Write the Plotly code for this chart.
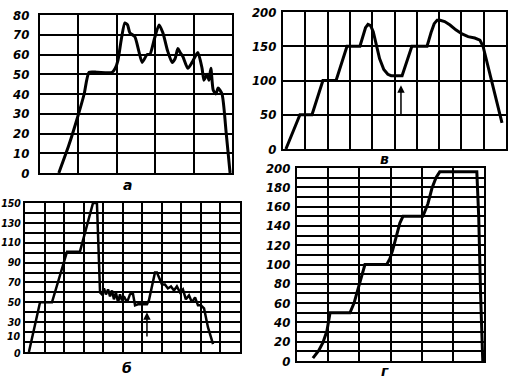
import plotly.graph_objects as go

# ---- panel а ----
a_x = [4.9, 7.5, 9.9, 11.5, 12.8, 15.0, 18.8, 19.6, 20.3, 21.2, 22.1, 22.8, 23.4, 24.7, 25.7, 26.6,
       27.9, 28.6, 29.8, 31.0, 32.0, 33.2, 34.4, 35.2, 35.9, 36.5, 37.2, 38.5, 39.6, 41.1, 42.2,
       42.7, 43.5, 44.0, 44.5, 45.1, 45.8, 46.4, 47.4, 48.5, 49.5]
a_y = [0, 14, 29, 40, 51, 51, 51, 53, 57, 68, 76, 75, 71, 69, 62, 56,
       60, 60, 68, 75, 71, 62, 56, 58, 63, 61, 59, 53, 56, 61, 53,
       47, 50, 47, 53, 42, 40, 43, 40, 20, 0]

# ---- panel в ----
v_x = [1.3, 7.6, 13.0, 17.9, 23.8, 28.7, 34.5, 35.9, 37.0, 38.1, 39.3, 40.5, 41.7, 43.3, 45.2, 47.0,
       48.5, 53.4, 57.8, 64.6, 66.4, 67.8, 69.1, 70.5, 72.5, 74.9, 77.5, 80.3, 83.0, 86.0, 88.3, 89.7, 98.2]
v_y = [0, 50, 50, 100, 100, 150, 150, 166, 177, 182, 180, 171, 155, 132, 116, 109,
       107, 107, 150, 150, 170, 183, 188, 188, 186, 181, 174, 168, 164, 162, 159, 150, 38]
v_arrow_x = 52.9
v_arrow_from = 47
v_arrow_to = 93

# ---- panel б ----
b_x = [2.0, 7.7, 13.8, 21.5, 28.1, 34.8, 36.8, 38.4, 39.4, 40.4, 41.4, 42.5, 43.5, 44.5, 45.5, 46.5,
       47.6, 48.6, 49.6, 50.6, 52.2, 53.7, 55.2, 56.3, 57.8, 62.4, 63.4, 65.0, 66.5, 67.5, 70.1, 71.6,
       73.1, 74.7, 76.2, 77.7, 79.3, 80.8, 82.3, 83.9, 85.4, 87.0, 88.5, 90.0, 91.6, 93.6, 96.2]
b_y = [0, 50, 50, 101, 101, 150, 150, 60, 58, 64, 58, 63, 56, 62, 53, 60,
       50, 58, 52, 56, 50, 58, 59, 47, 48, 48, 52, 68, 80, 80, 68, 68,
       64, 66, 62, 66, 60, 63, 53, 57, 50, 55, 47, 47, 44, 25, 8]
b_arrow_x = 62.4
b_arrow_from = 14
b_arrow_to = 40
b_ticks = [30, 50, 70, 90, 110, 130, 150]
# the two lowest labels of б sit apart from their lines in the reference
b_low_labels = ["0", "10"]
b_low_label_y = [0, 17]

# ---- panel г ----
g_x = [5.1, 7.0, 8.3, 9.6, 10.6, 17.0, 18.3, 19.2, 20.6, 21.8, 28.8, 29.8, 30.7, 31.4, 32.1, 33.0,
       34.0, 40.4, 42.0, 43.3, 44.6, 45.8, 57.7, 58.3, 58.9, 59.6]
g_y = [3, 11, 19, 31, 50, 50, 60, 71, 87, 100, 100, 106, 115, 124, 134, 143,
       150, 150, 163, 179, 190, 196, 196, 150, 70, 0]

panel_letters = ["а", "б", "в", "г"]

fig = go.Figure()
line = dict(color="black", width=3)
fig.add_trace(go.Scatter(x=a_x, y=a_y, mode="lines", line=dict(line, shape="spline", smoothing=0.6),
                         xaxis="x", yaxis="y"))
fig.add_trace(go.Scatter(x=v_x, y=v_y, mode="lines", line=line, xaxis="x2", yaxis="y2"))
fig.add_trace(go.Scatter(x=b_x, y=b_y, mode="lines", line=dict(color="black", width=2.5), xaxis="x3", yaxis="y3"))
fig.add_trace(go.Scatter(x=g_x, y=g_y, mode="lines", line=line, xaxis="x4", yaxis="y4"))

tickfont = dict(family="DejaVu Sans Condensed", size=13, color="black", weight="bold", style="italic")
tickfont_b = dict(tickfont, size=10.5)

def xax(domain, rng, anchor):
    return dict(domain=domain, range=rng, dtick=10, tick0=0, showticklabels=False, showgrid=True,
                gridcolor="black", gridwidth=2, zeroline=False, showline=True, linecolor="black",
                linewidth=2, mirror=True, ticks="", anchor=anchor, fixedrange=True, automargin=False)

def yax(domain, rng, anchor, standoff, font=tickfont, **kw):
    d = dict(domain=domain, range=rng, showgrid=True, gridcolor="black", gridwidth=2, zeroline=False,
             showline=True, linecolor="black", linewidth=2, mirror=True, ticks="", anchor=anchor,
             tickfont=font, ticklabelstandoff=standoff, fixedrange=True, automargin=False)
    d.update(kw)
    return d

W, H = 511, 378
def dx(p0, p1):
    return [p0 / W, p1 / W]
def dy(top, bottom):
    return [1 - bottom / H, 1 - top / H]

fig.update_layout(
    width=W, height=H, margin=dict(l=0, r=0, t=0, b=0),
    paper_bgcolor="white", plot_bgcolor="white", showlegend=False,
    xaxis=xax(dx(40, 232), [0, 50], "y"),
    yaxis=yax(dy(15, 173), [0, 80], "x", 6, dtick=10, tick0=0),
    xaxis2=xax(dx(283, 506), [0, 100], "y2"),
    yaxis2=yax(dy(12, 149), [0, 200], "x2", 2, dtick=50, tick0=0),
    xaxis3=xax(dx(25, 240), [0, 110], "y3"),
    yaxis3=yax(dy(203, 352), [0, 150], "x3", 0, font=tickfont_b, tickvals=b_ticks,
               minor=dict(dtick=10, tick0=0, showgrid=True, gridcolor="black", gridwidth=1.5)),
    xaxis4=xax(dx(297, 484), [0, 60], "y4"),
    yaxis4=yax(dy(168, 361), [0, 200], "x4", 2, dtick=20, tick0=0,
               minor=dict(dtick=10, tick0=0, showgrid=True, gridcolor="black", gridwidth=1.5)),
)

for txt, yv in zip(b_low_labels, b_low_label_y):
    fig.add_annotation(text=txt, x=0, y=yv, xref="x3", yref="y3", showarrow=False, font=tickfont_b,
                       xanchor="right", yanchor="middle", xshift=-2, yshift=-1)

letter_font = dict(family="DejaVu Sans", size=14, color="black", style="italic", weight="bold")
letter_pos = [(127, 185), (127, 368), (384, 159), (385, 371)]
for letter, (px, py) in zip(panel_letters, letter_pos):
    fig.add_annotation(text=letter, x=px / W, y=1 - py / H, xref="paper", yref="paper",
                       showarrow=False, font=letter_font, xanchor="center", yanchor="middle")

fig.add_annotation(x=v_arrow_x, y=v_arrow_to, ax=v_arrow_x, ay=v_arrow_from, xref="x2", yref="y2",
                   axref="x2", ayref="y2", text="", showarrow=True, arrowhead=2, arrowsize=1,
                   arrowwidth=1.5, arrowcolor="black")
fig.add_annotation(x=b_arrow_x, y=b_arrow_to, ax=b_arrow_x, ay=b_arrow_from, xref="x3", yref="y3",
                   axref="x3", ayref="y3", text="", showarrow=True, arrowhead=2, arrowsize=1,
                   arrowwidth=1.5, arrowcolor="black")

fig.write_html("out.html", config={"displayModeBar": False},
               post_script="document.body.style.margin='0px';")
